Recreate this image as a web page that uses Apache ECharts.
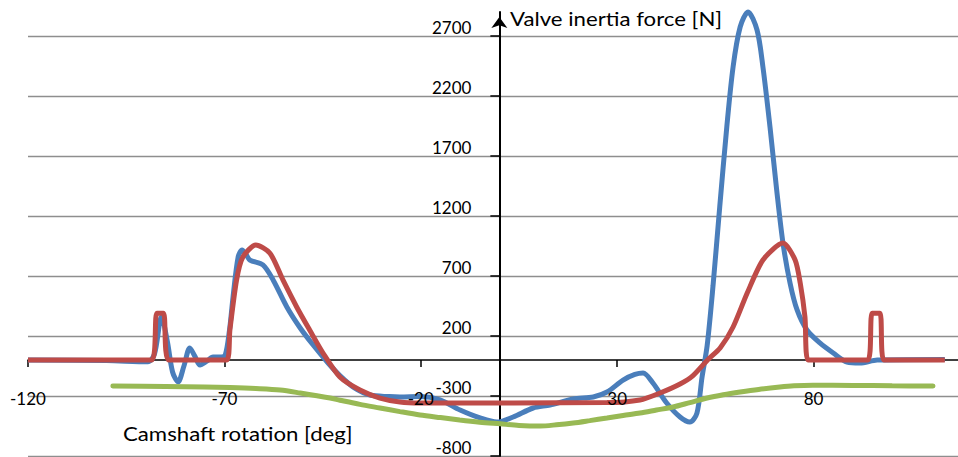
<!DOCTYPE html>
<html>
<head>
<meta charset="utf-8">
<script src="https://cdn.jsdelivr.net/npm/echarts@6/dist/echarts.min.js"></script>
<style>
html,body{margin:0;padding:0;background:#fff;}
#chart{width:958px;height:457px;}
#chart text{font-variant-ligatures:none;}
</style>
</head>
<body>
<div id="chart"></div>
<script>
// Camshaft rotation [deg] and valve inertia force [N]
const blueAngle = [-120, -100, -89.5, -87.8, -86.0, -84.5, -83.2, -81.8, -80.3, -78.8, -77.5, -76.2, -74.5, -72.9, -71, -69.8, -68.7, -67.8, -66.5, -65.5, -64.5, -63.5, -60.2, -57.6, -54.1, -50.7, -47.4, -43.6, -40.6, -37, -32.9, -28, -25.3, -20.2, -15.1, -10.0, -4.9, -0.6, 3.5, 8.6, 12.9, 18.8, 23.9, 27.4, 31.5, 34.5, 36.6, 39.1, 42.6, 46.0, 48.5, 50.3, 51.6, 52.9, 54.4, 56.1, 57.9, 59.5, 61.3, 63.3, 65.6, 67.1, 68.9, 70.6, 72.2, 74.0, 75.8, 78.3, 81.6, 85.0, 88.5, 91.8, 96.2, 113.4];
const blueForce = [0, -5, -15, 50, 360, 150, -100, -183, -50, 100, 30, -42, -10, 25, 25, 40, 250, 525, 858, 917, 880, 833, 792, 667, 442, 267, 125, -25, -130, -230, -292, -305, -308, -305, -333, -417, -483, -517, -475, -400, -375, -325, -308, -267, -167, -120, -108, -192, -358, -475, -517, -442, -142, 120, 620, 1275, 1942, 2442, 2775, 2900, 2750, 2442, 1942, 1417, 975, 642, 417, 250, 142, 58, -17, -25, 0, 5];

const redAngle = [-120, -88.5, -87.2, -85.5, -84.2, -69.4, -68.6, -66.9, -65.3, -62.0, -58.4, -55.1, -51.6, -48.3, -44.9, -40.6, -35.5, -30.4, -25.3, -20.2, 27.4, 35.8, 40.9, 46.0, 49.3, 53.0, 56.2, 59.5, 63.1, 67.1, 72.2, 75.3, 76.6, 77.8, 78.6, 93.8, 94.9, 96.9, 97.9, 113.4];
const redForce = [0, 0, 390, 390, 0, 0, 250, 667, 858, 958, 890, 667, 442, 250, 58, -142, -250, -317, -350, -358, -355, -333, -275, -200, -130, 0, 100, 275, 558, 833, 975, 833, 640, 358, 0, 0, 390, 390, 0, 0];

const greenAngle = [-98.4, -85, -75, -68.6, -62, -55.8, -50.7, -43.1, -40.6, -35.5, -30.4, -25.3, -20.2, -15, -10.1, -5, 0.2, 5, 10.4, 14.5, 18.8, 23, 27.4, 31.5, 35.8, 40, 44.2, 48.5, 52.9, 57, 61.3, 66, 71.4, 75, 79.8, 90, 100, 110.4];
const greenForce = [-217, -220, -225, -230, -238, -250, -275, -317, -335, -370, -400, -430, -458, -480, -500, -518, -532, -545, -550, -540, -525, -505, -483, -462, -442, -417, -392, -355, -317, -290, -267, -245, -225, -215, -210, -212, -215, -217];

const xTicks = [-120, -70, -20, 30, 80];
const yTicks = [-800, -300, 200, 700, 1200, 1700, 2200, 2700];

const xTitle = 'Camshaft rotation [deg]';
const yTitle = 'Valve inertia force [N]';

function zip(a, b) { return a.map((v, i) => [v, b[i]]); }

const FONT = 'Lato';
const GRID = {left: 28, right: -52, top: 12, bottom: 1};
const chart = echarts.init(document.getElementById('chart'), null, {renderer: 'svg'});
const W = 958, H = 457;
// pixel positions of the zero lines, from the axis scales
const plotW = W - GRID.left - GRID.right, plotH = H - GRID.top - GRID.bottom;
const xMin = -120, xMax = 130, yMin = -800, yMax = 2900;
const yAxisOffset = -plotW * (0 - xMin) / (xMax - xMin);
const xAxisOffset = -plotH * (0 - yMin) / (yMax - yMin);

const xLabelStyle = {margin: 30, color: '#000', fontFamily: FONT, fontSize: 17, customValues: xTicks,
                     formatter: v => String(v)};

chart.setOption({
  animation: false,
  backgroundColor: '#ffffff',
  graphic: [
    {type: 'text', left: 510, top: 9, scaleX: 1.17,
     style: {text: yTitle, font: 'normal 19px Lato', fill: '#000'}},
    {type: 'text', left: 123, top: 424, scaleX: 1.17,
     style: {text: xTitle, font: 'normal 19px Lato', fill: '#000'}}
  ],
  grid: Object.assign({containLabel: false, outerBoundsMode: 'none'}, GRID),
  xAxis: [
    {
      type: 'value', min: xMin, max: xMax, interval: 50, offset: xAxisOffset,
      axisLine: {onZero: false, lineStyle: {color: '#000', width: 1.5}},
      axisTick: {show: true, length: 7, lineStyle: {color: '#000', width: 1.5}, customValues: xTicks},
      axisLabel: {show: false},
      splitLine: {show: false}
    },
    {
      // same axis, drawn above the curves for its labels only
      type: 'value', position: 'bottom', min: xMin, max: xMax, interval: 50, offset: xAxisOffset, z: 20,
      axisLine: {show: false, onZero: false},
      axisTick: {show: false},
      axisLabel: xLabelStyle,
      splitLine: {show: false}
    }
  ],
  yAxis: {
    type: 'value', min: yMin, max: yMax, interval: 500, offset: yAxisOffset,
    axisLine: {show: true, onZero: false, symbol: ['none', 'arrow'], symbolSize: [12, 11], symbolOffset: [0, -5],
               lineStyle: {color: '#000', width: 2}},
    axisTick: {show: true, length: 9, lineStyle: {color: '#000', width: 1.5}, customValues: yTicks},
    axisLabel: {margin: 28, color: '#000', fontFamily: FONT, fontSize: 17, verticalAlign: 'bottom', lineHeight: 18,
                customValues: yTicks, formatter: v => String(v)},
    splitLine: {show: true, showMaxLine: true, showMinLine: true, lineStyle: {color: '#8e8e8e', width: 1.3}}
  },
  series: [
    {type: 'line', xAxisIndex: 0, data: zip(blueAngle, blueForce), showSymbol: false, smooth: 0.3, clip: false,
     lineStyle: {color: '#4a7ebb', width: 5}, z: 2},
    {type: 'line', xAxisIndex: 0, data: zip(redAngle, redForce), showSymbol: false, smooth: 0.25, clip: false,
     lineStyle: {color: '#be4b48', width: 5}, z: 3},
    {type: 'line', xAxisIndex: 0, data: zip(greenAngle, greenForce), showSymbol: false, smooth: 0.3, clip: false,
     lineStyle: {color: '#98b954', width: 5, cap: 'round'}, z: 4}
  ]
});
</script>
</body>
</html>
